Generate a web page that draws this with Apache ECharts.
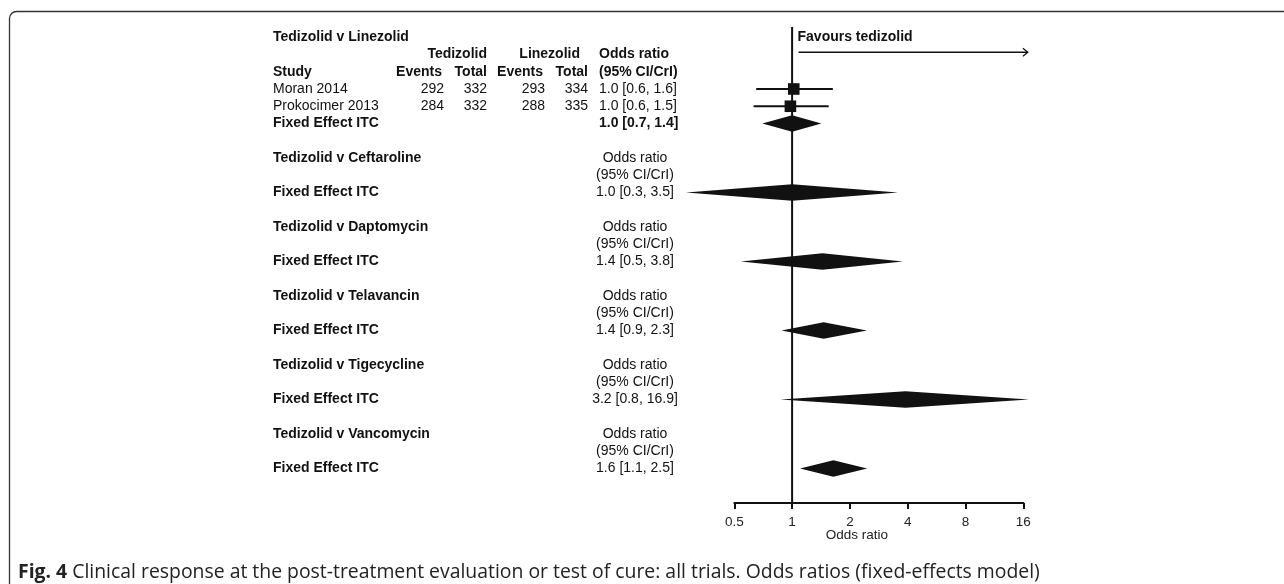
<!DOCTYPE html>
<html><head><meta charset="utf-8">
<script src="https://cdn.jsdelivr.net/npm/echarts@6/dist/echarts.min.js"></script>
<style>html,body{margin:0;padding:0;background:#fff}#c{width:1284px;height:584px}</style>
</head><body><div id="c"></div>
<script>
// ---- data ----
const comparators = ['Linezolid','Ceftaroline','Daptomycin','Telavancin','Tigecycline','Vancomycin'];
const studies = ['Moran 2014','Prokocimer 2013'];
const tedEvents = [292, 284];
const tedTotals = [332, 332];
const linEvents = [293, 288];
const linTotals = [334, 335];
const studyOR = [1.02, 0.98];
const studyLow = [0.65, 0.63];
const studyHigh = [1.63, 1.55];
const studyLabels = ['1.0 [0.6, 1.6]', '1.0 [0.6, 1.5]'];
const pooledOR = [1.0, 1.0, 1.44, 1.46, 3.9, 1.64];
const pooledLow = [0.70, 0.28, 0.54, 0.88, 0.87, 1.10];
const pooledHigh = [1.42, 3.56, 3.77, 2.45, 17.1, 2.46];
const pooledLabels = ['1.0 [0.7, 1.4]', '1.0 [0.3, 3.5]', '1.4 [0.5, 3.8]', '1.4 [0.9, 2.3]', '3.2 [0.8, 16.9]', '1.6 [1.1, 2.5]'];
const xTicks = [0.5, 1, 2, 4, 8, 16];
const favourText = 'Favours tedizolid';
const favourRange = [1.08, 16.9];
const captionBold = 'Fig. 4';
const captionText = 'Clinical response at the post-treatment evaluation or test of cure: all trials. Odds ratios (fixed-effects model)';

// ---- layout (not data) ----
const FONT = '"Liberation Sans", Arial, Helvetica, sans-serif';
const FS = 14;
const col = { label: 13, tedEvH: 182, tedEv: 184, tedTot: 227, tedHead: 227, linEvH: 283, linEv: 285, linTot: 328, linHead: 320, orLeft: 339, orCenter: 375 };
function titleRow(s) { return s === 0 ? 0 : 3 + 4 * s; }
function fixedRow(s) { return s === 0 ? 5 : 5 + 4 * s; }

// build table texts
const texts = [];
function T(x, row, text, bold, align) { texts.push({ x, row, text: String(text), bold: !!bold, align: align || 'left' }); }
comparators.forEach((c, s) => {
  const tr = titleRow(s), fr = fixedRow(s);
  T(col.label, tr, 'Tedizolid v ' + c, true);
  T(col.label, fr, 'Fixed Effect ITC', true);
  if (s === 0) {
    T(col.tedHead, 1, 'Tedizolid', true, 'right');
    T(col.linHead, 1, 'Linezolid', true, 'right');
    T(col.orLeft, 1, 'Odds ratio', true);
    T(col.label, 2, 'Study', true);
    T(col.tedEvH, 2, 'Events', true, 'right');
    T(col.tedTot, 2, 'Total', true, 'right');
    T(col.linEvH, 2, 'Events', true, 'right');
    T(col.linTot, 2, 'Total', true, 'right');
    T(col.orLeft, 2, '(95% CI/CrI)', true);
    studies.forEach((st, i) => {
      T(col.label, 3 + i, st);
      T(col.tedEv, 3 + i, tedEvents[i], false, 'right');
      T(col.tedTot, 3 + i, tedTotals[i], false, 'right');
      T(col.linEv, 3 + i, linEvents[i], false, 'right');
      T(col.linTot, 3 + i, linTotals[i], false, 'right');
      T(col.orLeft, 3 + i, studyLabels[i]);
    });
    T(col.orLeft, fr, pooledLabels[s], true);
  } else {
    T(col.orCenter, tr, 'Odds ratio', false, 'center');
    T(col.orCenter, tr + 1, '(95% CI/CrI)', false, 'center');
    T(col.orCenter, fr, pooledLabels[s], false, 'center');
  }
});

const studyData = studies.map((s, i) => [studyLow[i], studyHigh[i], studyOR[i], 3 + i]);
const pooledData = comparators.map((c, s) => [pooledLow[s], pooledHigh[s], pooledOR[s], fixedRow(s)]);

const chart = echarts.init(document.getElementById('c'), null, { renderer: 'canvas' });
const INK = '#111';
chart.setOption({
  animation: false,
  backgroundColor: '#fff',
  grid: [
    { left: 734.3, width: 289, top: 20, height: 483 },
    { left: 260, width: 400, top: 20, height: 483 }
  ],
  xAxis: [
    {
      type: 'log', logBase: 2, min: xTicks[0], max: xTicks[xTicks.length - 1], gridIndex: 0, position: 'bottom',
      axisLine: { onZero: false, lineStyle: { color: INK, width: 2 } },
      axisTick: { show: true, length: 6, lineStyle: { color: INK, width: 2 } },
      axisLabel: { color: '#222', fontSize: 13.5, fontFamily: FONT, margin: 12,
        formatter: v => { const t = xTicks.find(k => Math.abs(k - v) < 1e-6); return t === undefined ? '' : String(t); } },
      splitLine: { show: false },
      minorTick: { show: false },
      name: 'Odds ratio', nameLocation: 'middle', nameGap: 25, nameMoveOverlap: false,
      nameTextStyle: { color: '#222', fontSize: 13.5, fontFamily: FONT, padding: [0, 44, 0, 0] }
    },
    { type: 'value', min: 0, max: 400, gridIndex: 1, show: false }
  ],
  yAxis: [
    { type: 'value', min: -1, max: 27, inverse: true, gridIndex: 0, show: false },
    { type: 'value', min: -1, max: 27, inverse: true, gridIndex: 1, show: false }
  ],
  series: [
    { // reference line at OR = 1
      type: 'line', xAxisIndex: 0, yAxisIndex: 0, data: [[1, -0.6], [1, 27]],
      symbol: 'none', lineStyle: { color: INK, width: 2 }, silent: true, clip: false
    },
    { // study estimates
      type: 'custom', xAxisIndex: 0, yAxisIndex: 0, clip: false, data: studyData,
      renderItem: (p, api) => {
        const lo = api.coord([api.value(0), api.value(3)]);
        const hi = api.coord([api.value(1), api.value(3)]);
        const c = api.coord([api.value(2), api.value(3)]);
        const h = 5.8;
        return { type: 'group', children: [
          { type: 'line', shape: { x1: lo[0], y1: lo[1], x2: hi[0], y2: hi[1] }, style: { stroke: INK, lineWidth: 2 } },
          { type: 'rect', shape: { x: c[0] - h, y: c[1] - h, width: 2 * h, height: 2 * h }, style: { fill: INK } }
        ] };
      }
    },
    { // pooled diamonds
      type: 'custom', xAxisIndex: 0, yAxisIndex: 0, clip: false, data: pooledData,
      renderItem: (p, api) => {
        const lo = api.coord([api.value(0), api.value(3)]);
        const hi = api.coord([api.value(1), api.value(3)]);
        const c = api.coord([api.value(2), api.value(3)]);
        const h = 8.3;
        return { type: 'polygon', shape: { points: [[lo[0], lo[1]], [c[0], c[1] - h], [hi[0], hi[1]], [c[0], c[1] + h]] }, style: { fill: INK } };
      }
    },
    { // favours arrow
      type: 'custom', xAxisIndex: 0, yAxisIndex: 0, clip: false, data: [[favourRange[0], favourRange[1]]],
      renderItem: (p, api) => {
        const a = api.coord([api.value(0), 0.87]);
        const b = api.coord([api.value(1), 0.87]);
        const t = api.coord([api.value(0), 0]);
        return { type: 'group', children: [
          { type: 'line', shape: { x1: a[0], y1: a[1], x2: b[0], y2: b[1] }, style: { stroke: INK, lineWidth: 1.4 } },
          { type: 'polyline', shape: { points: [[b[0] - 5, b[1] - 4], [b[0], b[1]], [b[0] - 5, b[1] + 4]] }, style: { stroke: INK, lineWidth: 1.2, fill: null } },
          { type: 'text', style: { text: favourText, x: t[0] - 1, y: t[1], font: 'bold ' + FS + 'px ' + FONT, fill: INK, textAlign: 'left', textVerticalAlign: 'middle' } }
        ] };
      }
    },
    { // table texts
      type: 'custom', xAxisIndex: 1, yAxisIndex: 1, clip: false, data: texts.map(t => [t.x, t.row]),
      renderItem: (p, api) => {
        const t = texts[p.dataIndex];
        const pt = api.coord([api.value(0), api.value(1)]);
        return { type: 'text', style: { text: t.text, x: pt[0], y: pt[1], font: (t.bold ? 'bold ' : '') + FS + 'px ' + FONT, fill: INK, textAlign: t.align, textVerticalAlign: 'middle' } };
      }
    }
  ],
  graphic: [
    { type: 'rect', shape: { x: 9.5, y: 11.5, width: 1400, height: 800, r: 7 }, style: { fill: null, stroke: '#333', lineWidth: 1.3 }, silent: true },
    { type: 'text', left: 18, top: 563, style: { text: '{b|' + captionBold + '} ' + captionText, font: '19.4px "Open Sans", ' + FONT, fill: '#222',
        rich: { b: { fontWeight: 'bold', fontSize: 19.4, fontFamily: '"Open Sans", ' + FONT, fill: '#222' } } } }
  ]
});
</script></body></html>
